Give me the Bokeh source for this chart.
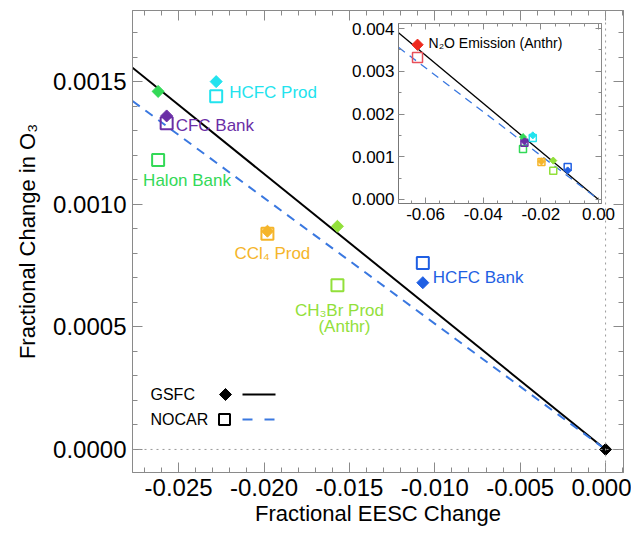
import numpy as np
from bokeh.plotting import figure
from bokeh.models import (Range1d, LinearAxis, Span, GridBox, ColumnDataSource,
                          FixedTicker, PrintfTickFormatter, CustomJSTickFormatter)
from bokeh.core.properties import value
from bokeh.embed import file_html
from bokeh.resources import INLINE

# ---------------- data ----------------
species = ["Halon Bank", "CFC Bank", "HCFC Prod", "CCl₄ Prod", "CH₃Br Prod", "HCFC Bank"]
colors = ["#33d957", "#6a2ea6", "#22e3ee", "#f5b52a", "#92e03a", "#1f5fe3"]
eesc = [-0.0262, -0.0257, -0.0228, -0.0198, -0.0157, -0.0107]
gsfc_o3 = [0.00146, 0.00136, 0.00150, 0.00089, 0.00091, 0.00068]
nocar_o3 = [0.00118, 0.00133, 0.00144, 0.00088, 0.00067, 0.00076]

n2o_label = "N₂O Emission (Anthr)"
n2o_eesc = [-0.0628]
n2o_gsfc = [0.00362]
n2o_nocar = [0.00332]
n2o_colors = ["#ee2a1e", "#e8505a"]

origin_x = [0.0]
origin_y = [0.0]

gsfc_slope = -0.0562
nocar_slope = -0.0513

main_xticks = [-0.025, -0.020, -0.015, -0.010, -0.005, 0.0]
main_yticks = [0.0, 0.0005, 0.0010, 0.0015]
inset_xticks = [-0.06, -0.04, -0.02, 0.0]
inset_yticks = [0.0, 0.001, 0.002, 0.003, 0.004]

FONT = "Liberation Sans"
AX = "#8a8a8a"

def style_axis(ax, fs, tick_in=10, minor_in=5):
    ax.axis_line_color = AX
    ax.major_tick_line_color = AX
    ax.minor_tick_line_color = AX
    ax.major_tick_in = tick_in
    ax.major_tick_out = 0
    ax.minor_tick_in = minor_in
    ax.minor_tick_out = 0
    ax.major_label_text_font = FONT
    ax.major_label_text_font_size = fs
    ax.major_label_text_color = "black"
    ax.axis_label_text_font = FONT
    ax.axis_label_text_font_style = "normal"
    ax.axis_label_text_color = "black"

def mirror(ticker):
    return LinearAxis(ticker=ticker, formatter=CustomJSTickFormatter(code="return ''"),
                      major_label_standoff=0)

# ---------------- main figure ----------------
W, H = 623, 523
BL, BR, BT, BB = 124, 8, 2, 59
p = figure(width=W, height=H, x_range=Range1d(-0.0277, 0.00105),
           y_range=Range1d(-0.000094, 0.00179), output_backend="svg",
           toolbar_location=None, min_border_left=BL, min_border_right=BR,
           min_border_top=BT, min_border_bottom=BB)
p.grid.visible = False
p.outline_line_color = AX
p.background_fill_color = "white"

xt = FixedTicker(ticks=main_xticks, minor_ticks=list(np.round(np.arange(-0.027, 0.0011, 0.001), 4)))
yt = FixedTicker(ticks=main_yticks, minor_ticks=list(np.round(np.arange(0.0, 0.00175, 0.0001), 5)))
p.xaxis.ticker = xt
p.yaxis.ticker = yt
p.xaxis.formatter = PrintfTickFormatter(format="%.3f")
p.yaxis.formatter = PrintfTickFormatter(format="%.4f")
p.xaxis.axis_label = "Fractional EESC Change"
p.yaxis.axis_label = "Fractional Change in O₃"
for ax in p.xaxis + p.yaxis:
    style_axis(ax, "24px")
    ax.axis_label_text_font_size = "22px"
    ax.major_label_standoff = 6
p.xaxis.axis_label_standoff = 2
p.yaxis.axis_label_standoff = 10

top_ax = mirror(xt)
right_ax = mirror(yt)
style_axis(top_ax, "1px")
style_axis(right_ax, "1px")
p.add_layout(top_ax, "above")
p.add_layout(right_ax, "right")

p.add_layout(Span(location=0, dimension="width", line_color="#9a9a9a", line_dash="dotted", line_width=1))
p.add_layout(Span(location=0, dimension="height", line_color="#9a9a9a", line_dash="dotted", line_width=1))

xr = np.array([p.x_range.start, 0.0])
p.line(xr, gsfc_slope * xr, line_color="black", line_width=2)
p.line(xr, nocar_slope * xr, line_color="#3a78e0", line_width=2, line_dash="9 7")

src = ColumnDataSource(dict(x=eesc, g=gsfc_o3, n=nocar_o3, c=colors, t=species))
p.scatter("x", "n", source=src, marker="square", size=12, fill_color=None,
          line_color="c", line_width=2)
p.scatter("x", "g", source=src, marker="square", angle=np.pi / 4, size=8.5,
          fill_color="c", line_color="c")
p.scatter(origin_x, origin_y, marker="square", angle=np.pi / 4, size=8.5,
          fill_color="black", line_color="black")

# labels (offsets in screen pixels relative to the NOCAR square)
lab_dx = [-15, 9, 13, -33, 2, 10]
lab_dy = [20, 2, -4, 20, 25, 14]
lab_align = ["left", "left", "left", "left", "center", "left"]
lsrc = ColumnDataSource(dict(x=eesc, y=nocar_o3, t=species, c=colors,
                             dx=lab_dx, dy=lab_dy, al=lab_align))
p.text("x", "y", text="t", source=lsrc, text_color="c", x_offset="dx", y_offset="dy",
       text_align="al", text_baseline="middle", text_font=value(FONT), text_font_size="17px")
p.text([eesc[4]], [nocar_o3[4]], text=["(Anthr)"], text_color=colors[4], x_offset=7, y_offset=41,
       text_align="center", text_baseline="middle", text_font=value(FONT), text_font_size="17px")

# legend (drawn in a pixel-based range over the frame)
fw = W - BL - BR
fh = H - BT - BB
p.extra_x_ranges = {"px": Range1d(0, fw)}
p.extra_y_ranges = {"py": Range1d(fh, 0)}
leg_names = ["GSFC", "NOCAR"]
leg_y = [384, 409]
p.text([18, 18], leg_y, text=leg_names, x_range_name="px", y_range_name="py",
       text_baseline="middle", text_font=value(FONT), text_font_size="16px", text_color="black")
p.scatter([93], [leg_y[0]], marker="square", angle=np.pi / 4, size=8.5, fill_color="black",
          line_color="black", x_range_name="px", y_range_name="py")
p.scatter([92], [leg_y[1]], marker="square", size=11, fill_color=None, line_color="black",
          line_width=2, x_range_name="px", y_range_name="py")
p.line([110, 143], [leg_y[0], leg_y[0]], line_color="black", line_width=2,
       x_range_name="px", y_range_name="py")
p.line([110, 143], [leg_y[1], leg_y[1]], line_color="#3a78e0", line_width=2, line_dash="10 12",
       x_range_name="px", y_range_name="py")

# ---------------- inset figure ----------------
IW, IH = 275, 218
ins = figure(width=IW, height=IH, x_range=Range1d(-0.0694, 0.00104),
             y_range=Range1d(-0.0000936, 0.004117), output_backend="svg",
             toolbar_location=None, min_border_left=58, min_border_right=14,
             min_border_top=10, min_border_bottom=28, border_fill_color=None,
             background_fill_color="white")
ins.grid.visible = False
ins.outline_line_color = "#777777"
ixt = FixedTicker(ticks=inset_xticks, minor_ticks=list(np.round(np.arange(-0.065, 0.0001, 0.005), 4)))
iyt = FixedTicker(ticks=inset_yticks, minor_ticks=list(np.round(np.arange(0.0, 0.00401, 0.0005), 5)))
ins.xaxis.ticker = ixt
ins.yaxis.ticker = iyt
ins.xaxis.formatter = PrintfTickFormatter(format="%.2f")
ins.yaxis.formatter = PrintfTickFormatter(format="%.3f")
for ax in ins.xaxis + ins.yaxis:
    style_axis(ax, "17px", tick_in=6, minor_in=3)
    ax.axis_line_color = "#777777"
    ax.major_label_standoff = 4
itop = mirror(ixt)
iright = mirror(iyt)
style_axis(itop, "1px", tick_in=6, minor_in=3)
style_axis(iright, "1px", tick_in=6, minor_in=3)
ins.add_layout(itop, "above")
ins.add_layout(iright, "right")

ixr = np.array([ins.x_range.start, 0.0])
ins.line(ixr, gsfc_slope * ixr, line_color="black", line_width=1.3)
ins.line(ixr, nocar_slope * ixr, line_color="#3a78e0", line_width=1.3, line_dash="8 6")
ins.scatter("x", "n", source=src, marker="square", size=7, fill_color=None,
            line_color="c", line_width=1.5)
ins.scatter("x", "g", source=src, marker="square", angle=np.pi / 4, size=5,
            fill_color="c", line_color="c")
ins.scatter(n2o_eesc, n2o_nocar, marker="square", size=10, fill_color=None,
            line_color=n2o_colors[1], line_width=1.5)
ins.scatter(n2o_eesc, n2o_gsfc, marker="square", angle=np.pi / 4, size=8,
            fill_color=n2o_colors[0], line_color=n2o_colors[0])
ins.text(n2o_eesc, n2o_gsfc, text=[n2o_label], x_offset=11, y_offset=-2,
         text_baseline="middle", text_font=value(FONT), text_font_size="14px", text_color="black")

# grid: leading 8px tracks emulate the page margin; the inset overlaps the main figure
MARGIN = 8
inset_left, inset_top = 332, 5
grid = GridBox(children=[(p, 1, 1, 3, 3), (ins, 2, 2, 1, 1)],
               rows=[f"{MARGIN}px", f"{inset_top}px", f"{IH}px", f"{H - inset_top - IH}px"],
               cols=[f"{MARGIN}px", f"{inset_left}px", f"{IW}px", f"{W - inset_left - IW}px"],
               spacing=0)

open("out.html", "w").write(file_html(grid, INLINE))
